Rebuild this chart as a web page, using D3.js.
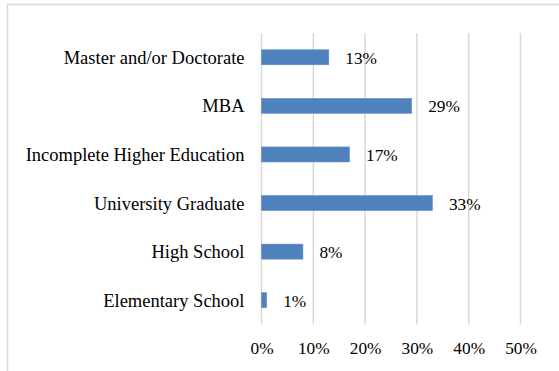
<!DOCTYPE html>
<html>
<head>
<meta charset="utf-8">
<script src="https://cdn.jsdelivr.net/npm/d3@7"></script>
<style>
  html, body { margin: 0; padding: 0; background: #ffffff; }
  svg { display: block; }
</style>
</head>
<body>
<svg id="chart" width="559" height="371"></svg>
<script>
// Education level of respondents (share of total)
const categories = [
  "Master and/or Doctorate",
  "MBA",
  "Incomplete Higher Education",
  "University Graduate",
  "High School",
  "Elementary School"
];
const shares = [13, 29, 17, 33, 8, 1];
const tickValues = [0, 10, 20, 30, 40, 50];

const svg = d3.select("#chart");
const W = 559, H = 371;
const plot = { left: 261.5, right: 520.5, top: 33, bottom: 324.5 };

// Chart area frame: top and left edges only
svg.append("path")
  .attr("d", `M7.5,${H} L7.5,4.5 L${W},4.5`)
  .attr("fill", "none")
  .attr("stroke", "#d9d9d9")
  .attr("stroke-width", 1.5);

const x = d3.scaleLinear().domain([0, 50]).range([plot.left, plot.right]);
const y = d3.scaleBand().domain(categories).range([plot.top, plot.bottom]).paddingInner(0.69).paddingOuter(0.345);

// Vertical gridlines
svg.append("g")
  .selectAll("line")
  .data(tickValues)
  .join("line")
  .attr("x1", d => x(d)).attr("x2", d => x(d))
  .attr("y1", plot.top).attr("y2", plot.bottom)
  .attr("stroke", "#d9d9d9")
  .attr("stroke-width", 1.5);

// X axis tick labels
const xAxis = d3.axisBottom(x).tickValues(tickValues).tickSize(0).tickPadding(0).tickFormat(d => d + "%");
const gx = svg.append("g").attr("transform", `translate(0,${plot.bottom})`).call(xAxis);
gx.select(".domain").remove();
gx.selectAll("text")
  .attr("y", 29.5).attr("dy", null)
  .attr("font-family", "'Liberation Serif', 'Times New Roman', serif")
  .attr("font-size", 17.3)
  .attr("fill", "#000");

// Y axis category labels
const yAxis = d3.axisLeft(y).tickSize(0).tickPadding(17);
const gy = svg.append("g").attr("transform", `translate(${plot.left},0)`).call(yAxis);
gy.select(".domain").remove();
gy.selectAll("text")
  .attr("dy", "0.35em")
  .attr("font-family", "'Liberation Serif', 'Times New Roman', serif")
  .attr("font-size", 18.5)
  .attr("fill", "#000");

// Bars
svg.append("g")
  .selectAll("rect")
  .data(categories)
  .join("rect")
  .attr("x", x(0))
  .attr("y", d => y(d))
  .attr("width", (d, i) => x(shares[i]) - x(0))
  .attr("height", y.bandwidth())
  .attr("fill", "#4f81bd")
  .attr("stroke", "#6a95cc")
  .attr("stroke-width", 0.6);

// Value labels
svg.append("g")
  .selectAll("text")
  .data(categories)
  .join("text")
  .attr("x", (d, i) => x(shares[i]) + 16.5)
  .attr("y", d => y(d) + y.bandwidth() / 2)
  .attr("dy", "0.38em")
  .attr("font-family", "'Liberation Serif', 'Times New Roman', serif")
  .attr("font-size", 17.3)
  .attr("fill", "#000")
  .text((d, i) => shares[i] + "%");
</script>
</body>
</html>
